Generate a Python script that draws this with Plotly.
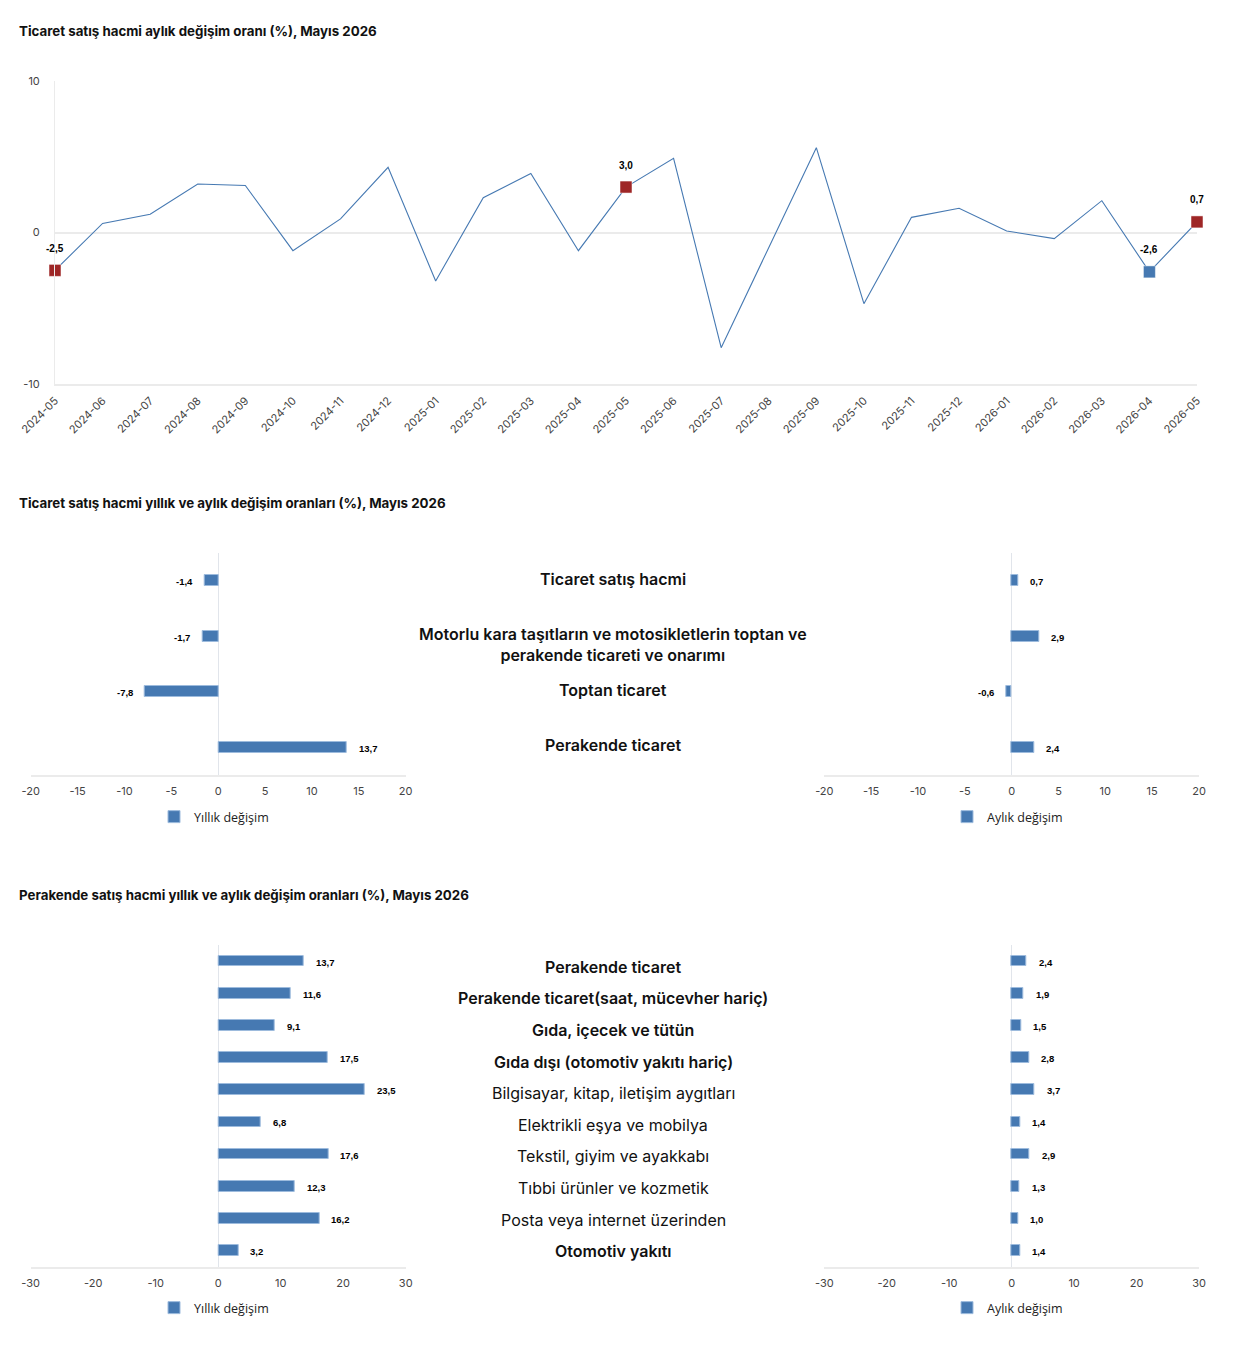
import plotly.graph_objects as go

# ---------- veriler ----------

months = [
    "2024-05", "2024-06", "2024-07", "2024-08", "2024-09", "2024-10", "2024-11", "2024-12",
    "2025-01", "2025-02", "2025-03", "2025-04", "2025-05", "2025-06", "2025-07", "2025-08",
    "2025-09", "2025-10", "2025-11", "2025-12", "2026-01", "2026-02", "2026-03", "2026-04",
    "2026-05",
]
monthly_change = [
    -2.5, 0.6, 1.2, 3.2, 3.1, -1.2, 0.9, 4.3,
    -3.2, 2.3, 3.9, -1.2, 3.0, 4.9, -7.6, -1.0,
    5.6, -4.7, 1.0, 1.6, 0.1, -0.4, 2.1, -2.6,
    0.7,
]
red_points = ["2024-05", "2025-05", "2026-05"]
blue_points = ["2026-04"]

trade_categories = [
    "Ticaret satış hacmi",
    "Motorlu kara taşıtların ve motosikletlerin toptan ve<br>perakende ticareti ve onarımı",
    "Toptan ticaret",
    "Perakende ticaret",
]
trade_yearly = [-1.4, -1.7, -7.8, 13.7]
trade_monthly = [0.7, 2.9, -0.6, 2.4]

retail_categories = [
    "Perakende ticaret",
    "Perakende ticaret(saat, mücevher hariç)",
    "Gıda, içecek ve tütün",
    "Gıda dışı (otomotiv yakıtı hariç)",
    "Bilgisayar, kitap, iletişim aygıtları",
    "Elektrikli eşya ve mobilya",
    "Tekstil, giyim ve ayakkabı",
    "Tıbbi ürünler ve kozmetik",
    "Posta veya internet üzerinden",
    "Otomotiv yakıtı",
]
retail_bold = [True, True, True, True, False, False, False, False, False, True]
retail_yearly = [13.7, 11.6, 9.1, 17.5, 23.5, 6.8, 17.6, 12.3, 16.2, 3.2]
retail_monthly = [2.4, 1.9, 1.5, 2.8, 3.7, 1.4, 2.9, 1.3, 1.0, 1.4]

titles = [
    "Ticaret satış hacmi aylık değişim oranı (%), Mayıs 2026",
    "Ticaret satış hacmi yıllık ve aylık değişim oranları (%), Mayıs 2026",
    "Perakende satış hacmi yıllık ve aylık değişim oranları (%), Mayıs 2026",
]

# ---------- stil ----------

BLUE = "#4679b2"
RED = "#9e2626"
GRID = "#ebebeb"
FONT = "Inter"
LABEL_FONT = "Liberation Sans"

FIG_W, FIG_H, OFF = 1220, 1338, 8


def px(x):
    return (x - OFF) / FIG_W


def py(y):
    return 1 - (y - OFF) / FIG_H


def fmt(v):
    return f"{v:.1f}".replace(".", ",")


def ticks(lo, hi, step):
    vals = list(range(lo, hi + 1, step))
    return vals, [str(v) for v in vals]


fig = go.Figure()

# ---- 1) aylık değişim çizgisi ----
fig.add_trace(go.Scatter(
    x=months, y=monthly_change, mode="lines",
    line=dict(color=BLUE, width=1.1), showlegend=False,
    xaxis="x", yaxis="y", hoverinfo="x+y",
))
for pts, col in ((red_points, RED), (blue_points, BLUE)):
    fig.add_trace(go.Scatter(
        x=pts, y=[monthly_change[months.index(m)] for m in pts],
        mode="markers", showlegend=False, xaxis="x", yaxis="y", cliponaxis=False,
        marker=dict(symbol="square", size=12, color=col,
                    line=dict(color="rgba(255,255,255,0.5)", width=1)),
    ))

annotations = []
for m in red_points + blue_points:
    v = monthly_change[months.index(m)]
    annotations.append(dict(
        x=m, y=v, xref="x", yref="y", text=fmt(v), showarrow=False,
        yshift=22, font=dict(family=LABEL_FONT, size=10, color="#000", weight="bold"),
    ))

# ---- 2) ve 3) yatay çubuklar ----
panels = [
    # (değerler, kategoriler, x ekseni, y ekseni, lejant, ad, bar genişliği)
    (trade_yearly, trade_categories, "x2", "y2", "legend", "Yıllık değişim", 0.19),
    (trade_monthly, trade_categories, "x3", "y3", "legend2", "Aylık değişim", 0.19),
    (retail_yearly, retail_categories, "x4", "y4", "legend3", "Yıllık değişim", 0.33),
    (retail_monthly, retail_categories, "x5", "y5", "legend4", "Aylık değişim", 0.33),
]
for vals, cats, xa, ya, lg, name, bw in panels:
    fig.add_trace(go.Bar(
        x=vals, y=list(range(len(cats))), orientation="h", width=bw,
        marker=dict(color=BLUE, line=dict(color="#9dbbdd", width=1)),
        name=name, legend=lg, xaxis=xa, yaxis=ya,
    ))
    for i, v in enumerate(vals):
        annotations.append(dict(
            x=v, y=i, xref=xa, yref=ya, text=fmt(v), showarrow=False,
            xanchor="left" if v >= 0 else "right", xshift=10 if v >= 0 else -10,
            yshift=-1, font=dict(family=LABEL_FONT, size=9.5, color="#000", weight="bold"),
        ))

# orta sütun etiketleri
for i, c in enumerate(trade_categories):
    annotations.append(dict(
        x=px(613), y=i, xref="paper", yref="y2", text=c, showarrow=False,
        xanchor="center", yshift=-8 if "<br>" in c else 2,
        font=dict(family=FONT, size=16, color="#111", weight=600),
    ))
for i, c in enumerate(retail_categories):
    annotations.append(dict(
        x=px(613), y=i, xref="paper", yref="y6", text=c, showarrow=False,
        xanchor="center",
        font=dict(family=FONT, size=16, color="#111", weight=600 if retail_bold[i] else 400),
    ))

# başlıklar
for t, yy in zip(titles, (31, 503, 895)):
    annotations.append(dict(
        x=px(16.5), y=py(yy), xref="paper", yref="paper", text=t, showarrow=False,
        xanchor="left", yanchor="middle",
        font=dict(family=FONT, size=13.3, color="#111", weight=700),
    ))

tick_font = dict(family=FONT, size=11, color="#444")


def bar_x(dom, lo, hi, step, anchor):
    tv, tt = ticks(lo, hi, step)
    return dict(
        domain=[px(dom[0]), px(dom[1])], range=[lo, hi], anchor=anchor,
        tickvals=tv, ticktext=tt, tickfont=tick_font, showgrid=False,
        zeroline=True, zerolinecolor="#e1e5eb", zerolinewidth=1,
        showline=True, linecolor=GRID, linewidth=2, ticks="", fixedrange=True,
        ticklabelstandoff=5, automargin=False,
    )


def bar_y(dom, n, anchor):
    return dict(
        domain=[py(dom[1]), py(dom[0])], range=[n - 0.5, -0.5], anchor=anchor,
        showticklabels=False, showgrid=False, zeroline=False, showline=False,
        fixedrange=True, automargin=False,
    )


def legend_at(x, y):
    return dict(
        x=px(x), y=py(y), xref="paper", yref="paper", xanchor="left", yanchor="middle",
        orientation="h", font=dict(family="Open Sans", size=12.5, color="#222"),
        bgcolor="rgba(0,0,0,0)", itemclick=False,
    )


yt, ytt = ticks(-10, 10, 10)

fig.update_layout(
    width=FIG_W, height=FIG_H,
    margin=dict(l=0, r=0, t=0, b=0, autoexpand=False),
    paper_bgcolor="white", plot_bgcolor="white",
    bargap=0,
    annotations=annotations,
    xaxis=dict(
        domain=[px(55), px(1197)], type="category", range=[0, len(months) - 1],
        anchor="y", tickangle=-45, tickfont=tick_font, showgrid=False,
        showline=True, linecolor=GRID, linewidth=2, ticks="", ticklabelstandoff=4,
        automargin=False,
    ),
    yaxis=dict(
        domain=[py(384), py(81)], range=[-10, 10], anchor="x",
        tickvals=yt, ticktext=ytt, tickfont=tick_font, showgrid=False,
        zeroline=True, zerolinecolor=GRID, zerolinewidth=2,
        showline=True, linecolor=GRID, linewidth=1, ticklabelstandoff=12,
        automargin=False,
    ),
    xaxis2=bar_x((30.7, 405.7), -20, 20, 5, "y2"),
    yaxis2=bar_y((553, 775), len(trade_categories), "x2"),
    xaxis3=bar_x((824.3, 1199), -20, 20, 5, "y3"),
    yaxis3=bar_y((553, 775), len(trade_categories), "x3"),
    xaxis4=bar_x((30.7, 405.7), -30, 30, 10, "y4"),
    yaxis4=bar_y((945, 1266.7), len(retail_categories), "x4"),
    xaxis5=bar_x((824.3, 1199), -30, 30, 10, "y5"),
    yaxis5=bar_y((945, 1266.7), len(retail_categories), "x5"),
    yaxis6=dict(
        domain=[py(1267), py(951)], range=[len(retail_categories) - 0.5, -0.5],
        anchor="free", position=0, visible=False, fixedrange=True, automargin=False,
    ),
    legend=legend_at(154, 817),
    legend2=legend_at(947, 817),
    legend3=legend_at(154, 1308),
    legend4=legend_at(947, 1308),
    showlegend=True,
)

fig.write_html("out.html")
